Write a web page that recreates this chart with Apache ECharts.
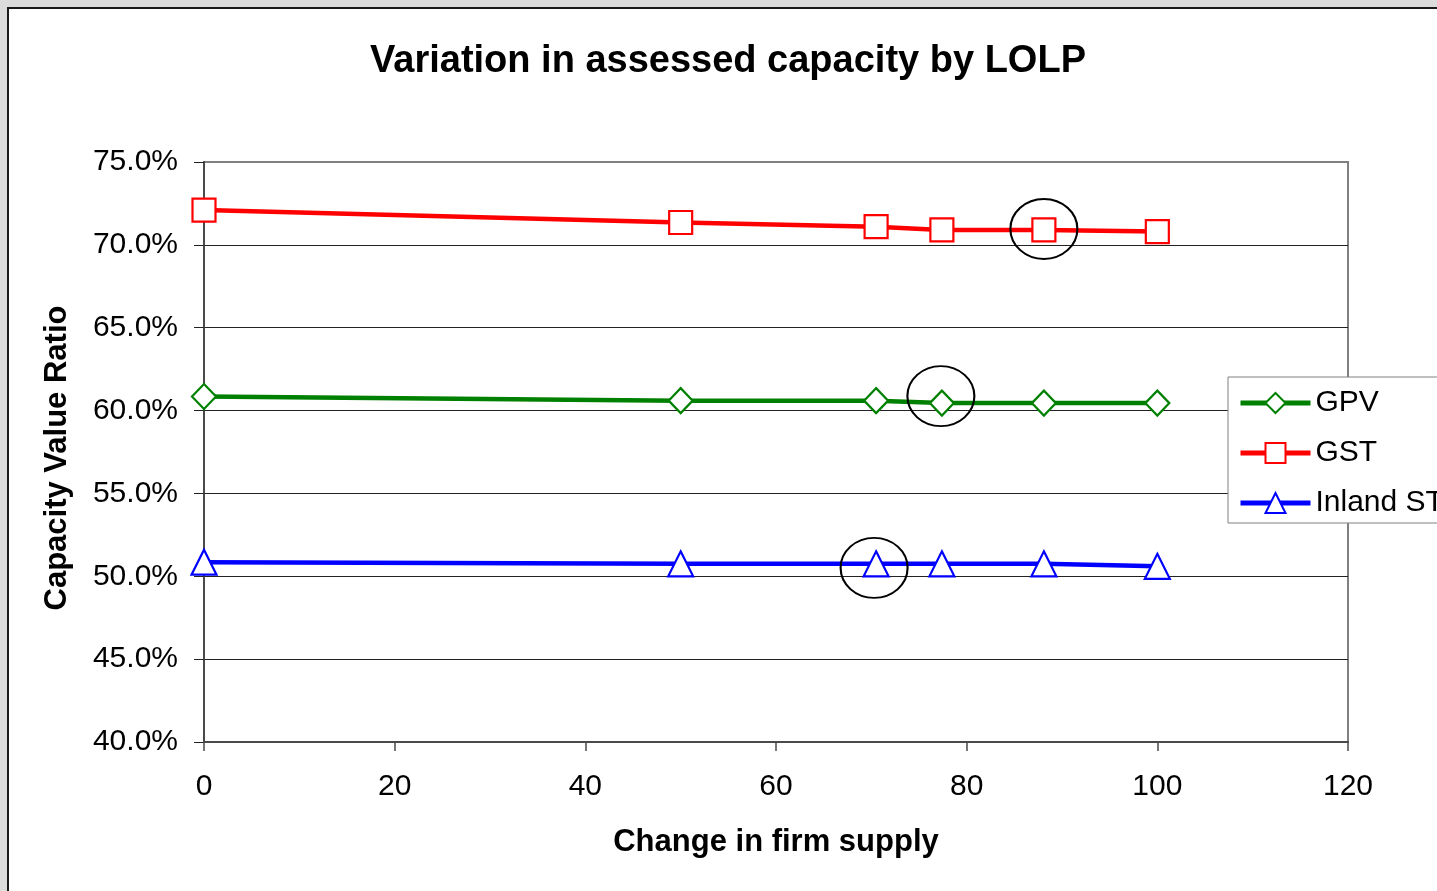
<!DOCTYPE html>
<html>
<head>
<meta charset="utf-8">
<title>Variation in assessed capacity by LOLP</title>
<script src="https://cdn.jsdelivr.net/npm/echarts@6/dist/echarts.min.js"></script>
<style>
  html, body { margin: 0; padding: 0; width: 100%; height: 100%; background: #dcdcdc; overflow: hidden; }
  #panel { position: absolute; left: 7px; top: 7px; width: 1500px; height: 1000px; background: #fff;
           border-left: 2px solid #1a1a1a; border-top: 2px solid #1a1a1a; }
  #chart { position: absolute; left: 0; top: 0; width: 1437px; height: 891px; }
</style>
</head>
<body>
<div id="panel"></div>
<div id="chart"></div>
<script>
// Change in firm supply (x) and capacity value ratio in percent (y)
const firmSupply = [0, 50, 70.5, 77.4, 88.1, 100];
const gpv = [60.85, 60.6, 60.6, 60.45, 60.45, 60.45];
const gst = [72.1, 71.35, 71.1, 70.9, 70.9, 70.8];
const inlandSt = [50.85, 50.75, 50.75, 50.75, 50.75, 50.6];

// Axis ticks
const xTicks = [0, 20, 40, 60, 80, 100, 120];
const yTicks = [40, 45, 50, 55, 60, 65, 70, 75];

// Index of the highlighted (circled) point in each series
const gpvMarked = 3;
const gstMarked = 4;
const inlandMarked = 2;

const FONT = "'Liberation Sans', Arial, Helvetica, sans-serif";
const ELLIPSE = 'path://M0,30 A34,30 0 1,1 68,30 A34,30 0 1,1 0,30 Z';

function pairs(ys) {
  return firmSupply.map((x, i) => [x, ys[i]]);
}

function ring(ys, idx, offset) {
  return {
    silent: true,
    symbol: ELLIPSE,
    symbolSize: [67, 60],
    symbolKeepAspect: false,
    symbolOffset: offset,
    itemStyle: { color: 'none', borderColor: '#000', borderWidth: 2 },
    label: { show: false },
    data: [{ coord: [firmSupply[idx], ys[idx]] }]
  };
}

function lineSeries(name, ys, color, symbol, size, mark) {
  return {
    name: name,
    type: 'line',
    data: pairs(ys),
    symbol: symbol,
    symbolSize: size,
    showAllSymbol: true,
    animation: false,
    lineStyle: { color: color, width: 4.5 },
    itemStyle: { color: '#fff', borderColor: color, borderWidth: 2.2 },
    emphasis: { disabled: true },
    markPoint: mark
  };
}

const chart = echarts.init(document.getElementById('chart'), null, { renderer: 'canvas' });

chart.setOption({
  backgroundColor: 'transparent',
  animation: false,
  textStyle: { fontFamily: FONT },
  title: {
    text: 'Variation in assessed capacity by LOLP',
    left: 728,
    top: 43,
    padding: 0,
    textAlign: 'center',
    textStyle: { fontFamily: FONT, fontSize: 38, fontWeight: 'bold', color: '#000' }
  },
  legend: {
    orient: 'vertical',
    left: 1228,
    top: 377,
    padding: [11, 10, 5, 10],
    itemGap: 20,
    itemWidth: 70,
    itemHeight: 25,
    backgroundColor: '#fff',
    borderColor: '#808080',
    borderWidth: 1,
    borderRadius: 0,
    lineStyle: { width: 5 },
    textStyle: { fontFamily: FONT, fontSize: 30, lineHeight: 30, color: '#000' },
    data: ['GPV', 'GST', 'Inland ST']
  },
  grid: {
    left: 204,
    right: 89,
    top: 162,
    bottom: 149,
    show: true,
    borderColor: '#808080',
    borderWidth: 2,
    backgroundColor: 'transparent'
  },
  xAxis: {
    type: 'value',
    min: xTicks[0],
    max: xTicks[xTicks.length - 1],
    interval: xTicks[1] - xTicks[0],
    name: 'Change in firm supply',
    nameLocation: 'middle',
    nameGap: 85,
    nameTextStyle: { fontFamily: FONT, fontSize: 31, fontWeight: 'bold', color: '#000' },
    axisLine: { show: true, onZero: false, lineStyle: { color: '#4a4a4a', width: 2 } },
    axisTick: { show: true, inside: false, length: 9, lineStyle: { color: '#4a4a4a', width: 1.5 } },
    axisLabel: { margin: 30, fontFamily: FONT, fontSize: 30, color: '#000' },
    splitLine: { show: false }
  },
  yAxis: {
    type: 'value',
    min: yTicks[0],
    max: yTicks[yTicks.length - 1],
    interval: yTicks[1] - yTicks[0],
    name: 'Capacity Value Ratio',
    nameLocation: 'middle',
    nameGap: 131,
    nameTextStyle: { fontFamily: FONT, fontSize: 31, fontWeight: 'bold', color: '#000', padding: [0, 12, 0, 0] },
    axisLine: { show: true, onZero: false, lineStyle: { color: '#4a4a4a', width: 2 } },
    axisTick: { show: true, inside: false, length: 10, lineStyle: { color: '#222', width: 1 } },
    axisLabel: {
      margin: 26, fontFamily: FONT, fontSize: 30, color: '#000',
      formatter: v => v.toFixed(1) + '%'
    },
    splitLine: { show: true, showMaxLine: false, lineStyle: { color: '#222', width: 1 } }
  },
  series: [
    lineSeries('GPV', gpv, '#008000', 'diamond', [24, 25], ring(gpv, gpvMarked, [-1, -7])),
    lineSeries('GST', gst, '#ff0000', 'rect', 23, ring(gst, gstMarked, [0, -1])),
    lineSeries('Inland ST', inlandSt, '#0000ff', 'triangle', 25, ring(inlandSt, inlandMarked, [-2, 4]))
  ]
});
</script>
</body>
</html>
